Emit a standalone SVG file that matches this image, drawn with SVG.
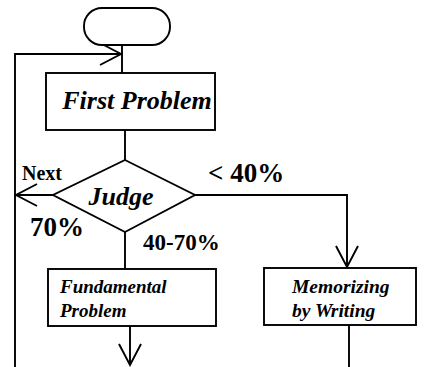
<svg xmlns="http://www.w3.org/2000/svg" width="424" height="367" viewBox="0 0 424 367">
<style>
.shape{fill:#fff;stroke:#000;stroke-width:1.9}
.line{fill:none;stroke:#000;stroke-width:1.9}
.t{font-family:"Liberation Serif","Times New Roman",serif;font-weight:bold;fill:#000}
.i{font-style:italic}
</style>
<defs>
<marker id="arr" markerUnits="userSpaceOnUse" markerWidth="24" markerHeight="24" refX="21" refY="11" orient="auto" overflow="visible">
<path d="M0,0 L21,11 L0,22" fill="none" stroke="#000" stroke-width="1.9"/>
</marker>
</defs>
<rect width="424" height="367" fill="#fff"/>
<g id="connectors">
<line class="line" x1="122" y1="45" x2="122" y2="73"/>
<polyline class="line" points="15,367 15,54 121,54" marker-end="url(#arr)"/>
<line class="line" x1="125" y1="130" x2="125" y2="160"/>
<line class="line" x1="53" y1="195" x2="16" y2="195" marker-end="url(#arr)"/>
<polyline class="line" points="195,195 347,195 347,267" marker-end="url(#arr)"/>
<line class="line" x1="125" y1="232" x2="125" y2="269"/>
<line class="line" x1="130" y1="326" x2="130" y2="365" marker-end="url(#arr)"/>
<line class="line" x1="349" y1="325" x2="349" y2="367"/>
</g>
<g id="start">
<rect class="shape" x="84" y="8" width="86" height="37" rx="18" ry="18"/>
</g>
<g id="first-problem">
<rect class="shape" x="46" y="73" width="169" height="57"/>
<text class="t i" x="137" y="109" font-size="26" text-anchor="middle">First Problem</text>
</g>
<g id="judge">
<polygon class="shape" points="125,160 195,195 125,232 53,195"/>
<text class="t i" x="121" y="205" font-size="26" text-anchor="middle">Judge</text>
</g>
<g id="fundamental">
<rect class="shape" x="48" y="269" width="168" height="57"/>
<text class="t i" x="60" y="293" font-size="19">Fundamental</text>
<text class="t i" x="60" y="317" font-size="19">Problem</text>
</g>
<g id="memorizing">
<rect class="shape" x="264" y="268" width="152" height="57"/>
<text class="t i" x="292" y="293" font-size="19.5">Memorizing</text>
<text class="t i" x="292" y="317" font-size="19.5">by Writing</text>
</g>
<g id="labels">
<text class="t" x="22" y="180" font-size="20">Next</text>
<text class="t" x="30" y="236" font-size="27">70%</text>
<text class="t" x="208" y="182" font-size="27">&lt; 40%</text>
<text class="t" x="143" y="250" font-size="23">40-70%</text>
</g>
</svg>
